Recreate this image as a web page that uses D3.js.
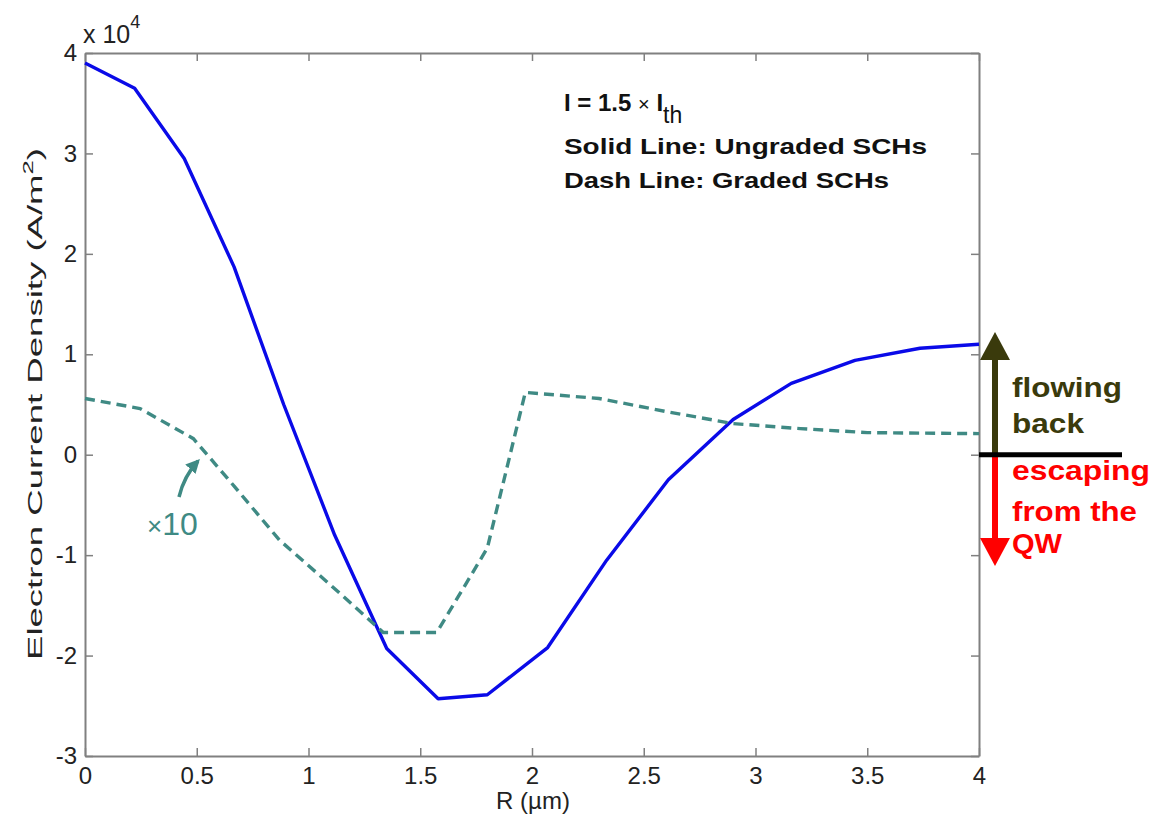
<!DOCTYPE html>
<html>
<head>
<meta charset="utf-8">
<script src="https://cdn.jsdelivr.net/npm/d3@7"></script>
<style>
  body { margin: 0; background: #fff; }
  svg { display: block; }
  text { font-family: "Liberation Sans", Arial, Helvetica, sans-serif; }
</style>
</head>
<body>
<svg id="chart" width="1167" height="826"></svg>
<script>
// Radial position R (µm) and electron current density (×10^4 A/m²)
const ungradedR = [0, 0.222, 0.444, 0.667, 0.889, 1.117, 1.35, 1.58, 1.80, 2.07, 2.334, 2.61, 2.90, 3.16, 3.445, 3.736, 4.0];
const ungradedJ = [3.90, 3.65, 2.95, 1.87, 0.50, -0.80, -1.93, -2.43, -2.39, -1.92, -1.05, -0.25, 0.35, 0.71, 0.94, 1.06, 1.10];

// Graded SCHs: true values, drawn magnified by gradedScale
const gradedR = [0, 0.246, 0.485, 0.67, 0.87, 1.10, 1.275, 1.335, 1.574, 1.80, 1.97, 2.30, 2.60, 2.90, 3.20, 3.50, 4.0];
const gradedJ = [0.056, 0.046, 0.016, -0.032, -0.085, -0.130, -0.165, -0.177, -0.177, -0.093, 0.062, 0.056, 0.043, 0.031, 0.026, 0.022, 0.021];
const gradedScale = 10;

const xTicks = [0, 0.5, 1, 1.5, 2, 2.5, 3, 3.5, 4];
const xTickLabels = ["0", "0.5", "1", "1.5", "2", "2.5", "3", "3.5", "4"];
const yTicks = [-3, -2, -1, 0, 1, 2, 3, 4];
const yTickLabels = ["-3", "-2", "-1", "0", "1", "2", "3", "4"];

const svg = d3.select("#chart");
const plot = { left: 85, top: 53, right: 979, bottom: 756 };

const x = d3.scaleLinear().domain([0, 4]).range([plot.left, plot.right]);
const y = d3.scaleLinear().domain([-3, 4]).range([plot.bottom, plot.top]);

const axisColor = "#808080";
const labelColor = "#222";

// Frame axes with inward ticks on all four sides
function styleAxis(g) {
  g.selectAll(".domain").attr("stroke", axisColor).attr("stroke-width", 2);
  g.selectAll(".tick line").attr("stroke", axisColor).attr("stroke-width", 1.5);
  g.selectAll(".tick text").attr("fill", labelColor).attr("font-size", 24)
    .attr("font-family", "'Liberation Sans', Arial, sans-serif");
}

svg.append("g")
  .attr("transform", `translate(0,${plot.bottom})`)
  .call(d3.axisBottom(x).tickValues(xTicks).tickFormat((d, i) => xTickLabels[i])
    .tickSizeInner(-8).tickSizeOuter(0).tickPadding(11))
  .call(styleAxis);

svg.append("g")
  .attr("transform", `translate(0,${plot.top})`)
  .call(d3.axisTop(x).tickValues(xTicks).tickFormat("")
    .tickSizeInner(-8).tickSizeOuter(0))
  .call(styleAxis);

svg.append("g")
  .attr("transform", `translate(${plot.left},0)`)
  .call(d3.axisLeft(y).tickValues(yTicks).tickFormat((d, i) => yTickLabels[i])
    .tickSizeInner(-8).tickSizeOuter(0).tickPadding(8))
  .call(styleAxis);

svg.append("g")
  .attr("transform", `translate(${plot.right},0)`)
  .call(d3.axisRight(y).tickValues(yTicks).tickFormat("")
    .tickSizeInner(-8).tickSizeOuter(0))
  .call(styleAxis);

// Exponent marker above the y axis
const expo = svg.append("text").attr("x", 83).attr("y", 43)
  .attr("font-size", 25).attr("fill", labelColor);
expo.append("tspan").text("x 10");
expo.append("tspan").attr("dy", -15).attr("font-size", 18).text("4");

// Axis titles
svg.append("text")
  .attr("x", 533).attr("y", 809)
  .attr("text-anchor", "middle").attr("font-size", 24).attr("fill", labelColor)
  .text("R (\u00b5m)");

const yTitle = svg.append("text")
  .attr("transform", "translate(42,404) rotate(-90)")
  .attr("text-anchor", "middle").attr("font-size", 20).attr("fill", labelColor)
  .attr("textLength", 512).attr("lengthAdjust", "spacingAndGlyphs");
yTitle.append("tspan").text("Electron Current Density (A/m");
yTitle.append("tspan").attr("dy", -9).attr("font-size", 14).text("2");
yTitle.append("tspan").attr("dy", 9).text(")");

// Curves
const line = d3.line().x(d => x(d[0])).y(d => y(d[1]));

svg.append("path")
  .datum(ungradedR.map((r, i) => [r, ungradedJ[i]]))
  .attr("d", line)
  .attr("fill", "none").attr("stroke", "#0a0ae8").attr("stroke-width", 3.4)
  .attr("stroke-linejoin", "round");

svg.append("path")
  .datum(gradedR.map((r, i) => [r, gradedJ[i] * gradedScale]))
  .attr("d", line)
  .attr("fill", "none").attr("stroke", "#3f8a84").attr("stroke-width", 3.4)
  .attr("stroke-dasharray", "10,6");

// Legend text block
const legendX = 564;
const l1 = svg.append("text").attr("x", legendX).attr("y", 111)
  .attr("font-size", 24).attr("font-weight", "bold").attr("fill", "#111");
l1.append("tspan").text("I = 1.5 ");
l1.append("tspan").attr("font-weight", "normal").attr("font-size", 20).text("\u00d7");
l1.append("tspan").text(" I");
l1.append("tspan").attr("dy", 12).attr("font-weight", "normal").attr("font-size", 23).text("th");

svg.append("text").attr("x", legendX).attr("y", 154)
  .attr("font-size", 22).attr("font-weight", "bold").attr("fill", "#111")
  .attr("textLength", 363).attr("lengthAdjust", "spacingAndGlyphs")
  .text("Solid Line: Ungraded SCHs");
svg.append("text").attr("x", legendX).attr("y", 188)
  .attr("font-size", 22).attr("font-weight", "bold").attr("fill", "#111")
  .attr("textLength", 325).attr("lengthAdjust", "spacingAndGlyphs")
  .text("Dash Line: Graded SCHs");

// Magnification note for the dashed curve
const teal = "#3f8a84";
svg.append("defs").append("marker")
  .attr("id", "tealHead").attr("viewBox", "0 0 10 10")
  .attr("refX", 8).attr("refY", 5)
  .attr("markerWidth", 4).attr("markerHeight", 4)
  .attr("orient", "auto")
  .append("path").attr("d", "M0,0 L10,5 L0,10 Z").attr("fill", teal);

svg.append("path")
  .attr("d", "M179,497 Q184,476 198,461")
  .attr("fill", "none").attr("stroke", teal).attr("stroke-width", 3.5)
  .attr("marker-end", "url(#tealHead)");

const x10 = svg.append("text").attr("x", 147).attr("y", 535).attr("fill", teal);
x10.append("tspan").attr("font-size", 26).text("\u00d7");
x10.append("tspan").attr("font-size", 32).text("10");

// Direction indicators to the right of the plot
const arrowX = 995;
const zeroY = y(0);
const olive = "#3a3a0c";

svg.append("line")
  .attr("x1", arrowX).attr("x2", arrowX)
  .attr("y1", zeroY).attr("y2", 360)
  .attr("stroke", olive).attr("stroke-width", 6);
svg.append("path")
  .attr("d", `M${arrowX},332 L${arrowX + 15},360 L${arrowX - 15},360 Z`)
  .attr("fill", olive);

svg.append("line")
  .attr("x1", arrowX).attr("x2", arrowX)
  .attr("y1", zeroY).attr("y2", 540)
  .attr("stroke", "#ff0000").attr("stroke-width", 6);
svg.append("path")
  .attr("d", `M${arrowX},566 L${arrowX + 15},538 L${arrowX - 15},538 Z`)
  .attr("fill", "#ff0000");

svg.append("line")
  .attr("x1", plot.right).attr("x2", 1122)
  .attr("y1", zeroY).attr("y2", zeroY)
  .attr("stroke", "#000").attr("stroke-width", 5);

const upText = [["flowing", 397, 110], ["back", 433, 72]];
upText.forEach(([t, yy, w]) => {
  svg.append("text").attr("x", 1012).attr("y", yy)
    .attr("font-size", 28).attr("font-weight", "bold").attr("fill", olive)
    .attr("textLength", w).attr("lengthAdjust", "spacingAndGlyphs").text(t);
});
const downText = [["escaping", 480, 138], ["from the", 521, 125], ["QW", 553, 50]];
downText.forEach(([t, yy, w]) => {
  svg.append("text").attr("x", 1012).attr("y", yy)
    .attr("font-size", 27).attr("font-weight", "bold").attr("fill", "#ff0000")
    .attr("textLength", w).attr("lengthAdjust", "spacingAndGlyphs").text(t);
});
</script>
</body>
</html>
